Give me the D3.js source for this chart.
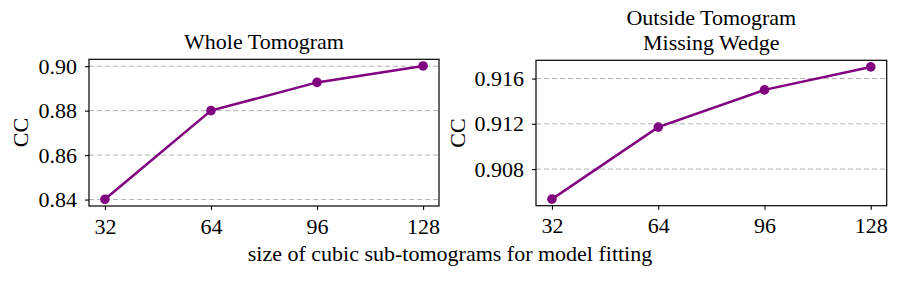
<!DOCTYPE html>
<html><head><meta charset="utf-8">
<script src="https://cdn.jsdelivr.net/npm/d3@7"></script>
<style>
body{margin:0;background:#fff;}
text{font-family:"Liberation Serif","DejaVu Serif",serif;fill:#000;}
</style></head>
<body><svg id="c" width="900" height="281"></svg>
<script>
const sizes = [32, 64, 96, 128];
const wholeCC = [0.8401, 0.8800, 0.8927, 0.9001];
const outsideCC = [0.90535, 0.91171, 0.91500, 0.91703];
const xTicks = [32, 64, 96, 128];
const wholeTicks = [0.84, 0.86, 0.88, 0.90];
const outsideTicks = [0.908, 0.912, 0.916];
const titles = [["Whole Tomogram"], ["Outside Tomogram", "Missing Wedge"]];
const yLabel = "CC";
const xLabel = "size of cubic sub-tomograms for model fitting";

const svg = d3.select("#c");
const FS = 22;
const purple = "#800080";

function panel(box, vals, ticks, fmt, titleLines) {
  const [x0, x1, y0, y1] = box;
  const xr = d3.extent(sizes), xm = (xr[1]-xr[0])*0.05;
  const x = d3.scaleLinear().domain([xr[0]-xm, xr[1]+xm]).range([x0, x1]);
  const yr = d3.extent(vals), ym = (yr[1]-yr[0])*0.05;
  const y = d3.scaleLinear().domain([yr[0]-ym, yr[1]+ym]).range([y1, y0]);
  const g = svg.append("g");
  // grid
  g.selectAll(".grid").data(ticks).enter().append("line")
    .attr("x1", x0).attr("x2", x1)
    .attr("y1", d => y(d)).attr("y2", d => y(d))
    .attr("stroke", "#b0b0b0").attr("stroke-width", 1)
    .attr("stroke-dasharray", "5,3");
  // axes
  const ya = g.append("g").attr("transform", `translate(${x0},0)`)
    .call(d3.axisLeft(y).tickValues(ticks).tickFormat(fmt).tickSize(4).tickPadding(8));
  const xa = g.append("g").attr("transform", `translate(0,${y1})`)
    .call(d3.axisBottom(x).tickValues(xTicks).tickFormat(d3.format("d")).tickSize(4).tickPadding(8));
  [ya, xa].forEach(a => {
    a.select(".domain").remove();
    a.selectAll(".tick line").attr("stroke", "#000").attr("stroke-width", 1.1);
    a.selectAll(".tick text").attr("font-size", FS).attr("font-family", "Liberation Serif").attr("fill", "#000");
  });
  // line
  const line = d3.line().x((d, i) => x(sizes[i])).y(d => y(d));
  g.append("path").datum(vals).attr("d", line).attr("fill", "none")
    .attr("stroke", purple).attr("stroke-width", 2.5);
  g.selectAll(".pt").data(vals).enter().append("circle")
    .attr("cx", (d, i) => x(sizes[i])).attr("cy", d => y(d)).attr("r", 4.8)
    .attr("fill", purple);
  // frame
  g.append("rect").attr("x", x0).attr("y", y0).attr("width", x1-x0).attr("height", y1-y0)
    .attr("fill", "none").attr("stroke", "#000").attr("stroke-width", 1.2);
  // title
  const n = titleLines.length;
  titleLines.forEach((s, i) => {
    g.append("text").attr("x", (x0+x1)/2).attr("y", y0 - 10.5 - (n-1-i)*24.6)
      .attr("text-anchor", "middle").attr("font-size", FS).text(s);
  });
  return {x, y};
}

panel([89, 439, 59.3, 206], wholeCC, wholeTicks, d3.format(".2f"), titles[0]);
panel([536, 886.7, 60.3, 205.7], outsideCC, outsideTicks, d3.format(".3f"), titles[1]);

svg.append("text").attr("transform", "translate(28,132.6) rotate(-90)")
  .attr("text-anchor", "middle").attr("font-size", FS).text(yLabel);
svg.append("text").attr("transform", "translate(465,133) rotate(-90)")
  .attr("text-anchor", "middle").attr("font-size", FS).text(yLabel);
svg.append("text").attr("x", 450).attr("y", 261).attr("text-anchor", "middle")
  .attr("font-size", FS).text(xLabel);
</script></body></html>
